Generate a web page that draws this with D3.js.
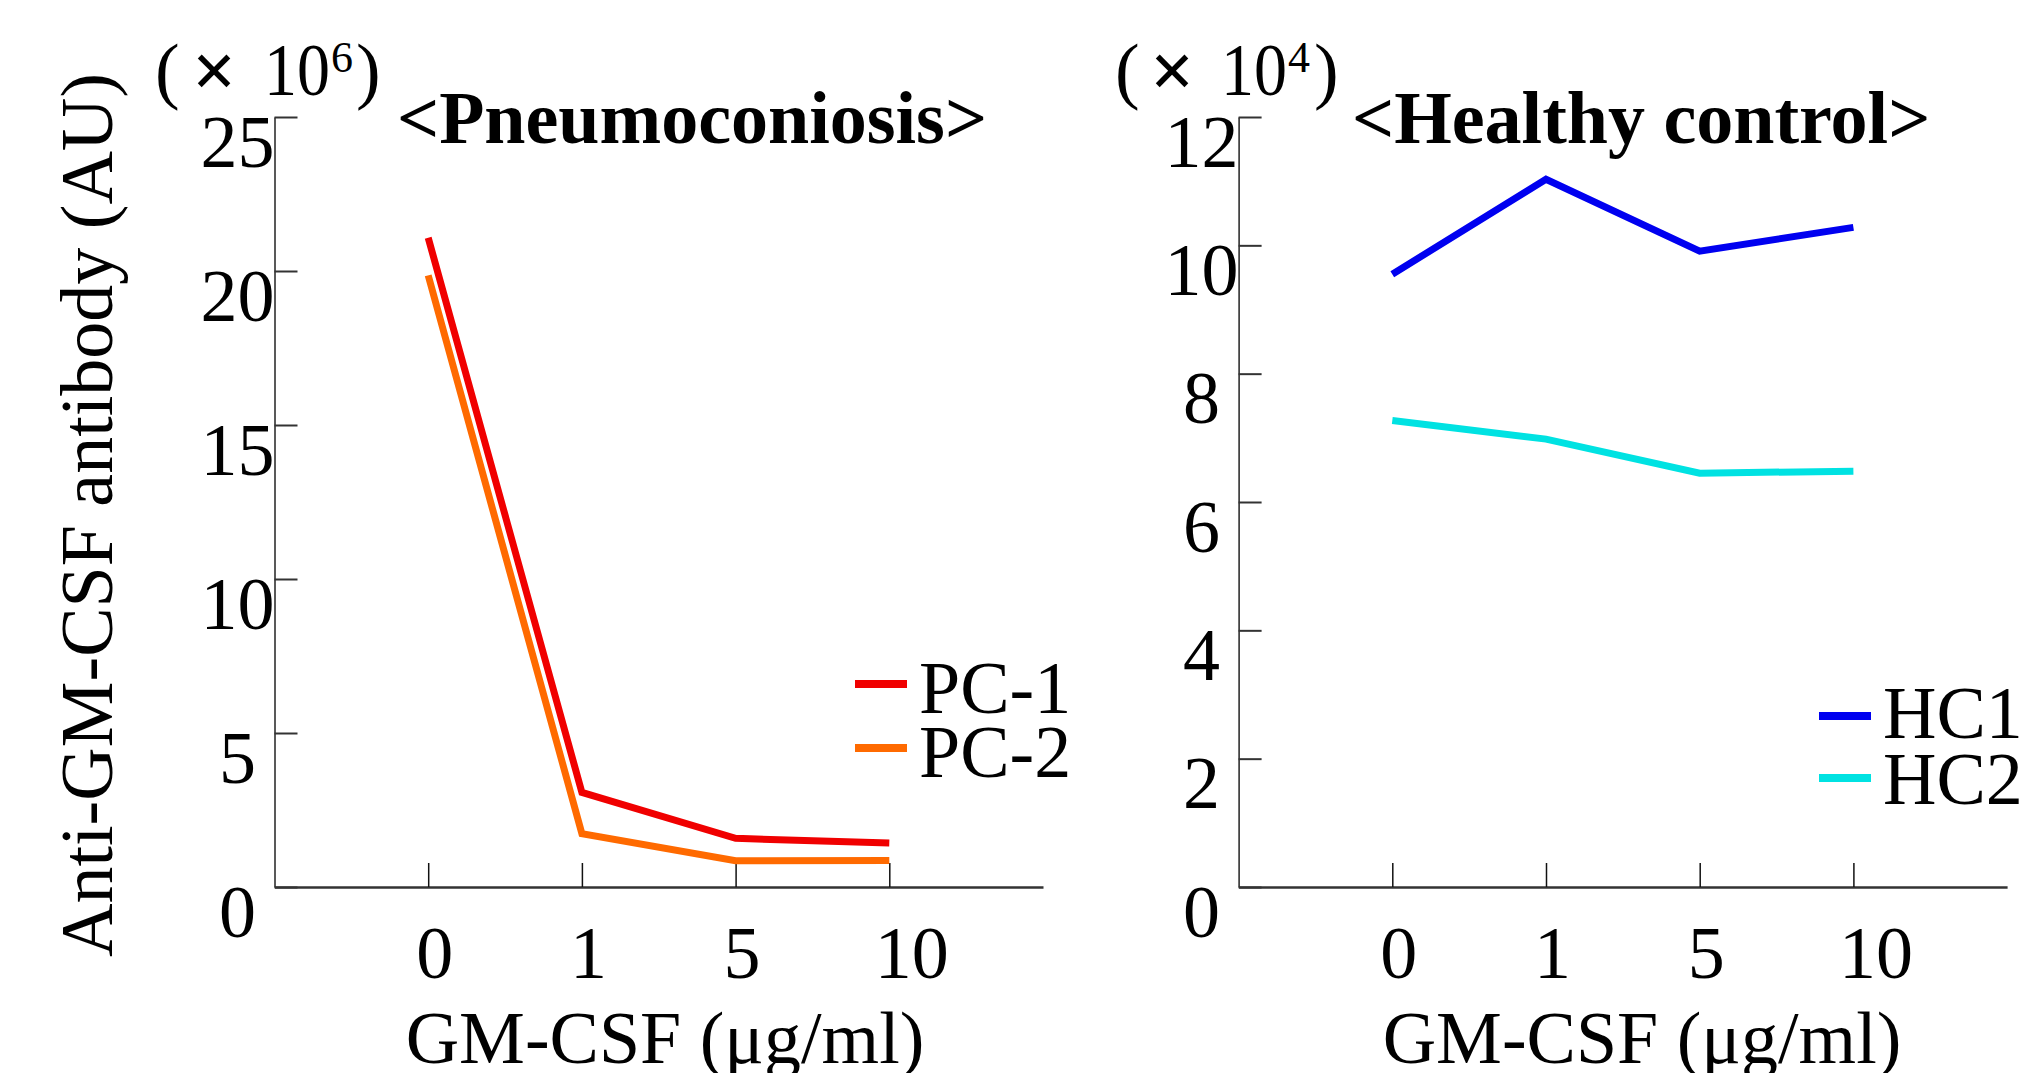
<!DOCTYPE html>
<html>
<head>
<meta charset="utf-8">
<script src="https://cdn.jsdelivr.net/npm/d3@7"></script>
<style>
  body { margin: 0; background: #fff; }
  text { font-family: "Liberation Serif", "Times New Roman", serif; fill: #000; }
</style>
</head>
<body>
<script>
var W = 2029;
var H = 1073;

// GM-CSF doses (x categories)
var doses = ["0", "1", "5", "10"];

// Pneumoconiosis, x10^6 AU
var pc1 = [21.08, 3.07, 1.58, 1.43];
var pc2 = [19.86, 1.73, 0.85, 0.86];

// Healthy control, x10^4 AU
var hc1 = [9.55, 11.03, 9.91, 10.28];
var hc2 = [7.27, 6.98, 6.45, 6.48];

var leftTicks = [0, 5, 10, 15, 20, 25];
var rightTicks = [0, 2, 4, 6, 8, 10, 12];

var svg = d3.select("body").append("svg").attr("width", W).attr("height", H);

var yTop = 117, yBottom = 887;

function panel(opt) {
  var g = svg.append("g");

  var x = d3.scalePoint().domain(doses).range([opt.x0, opt.x0 + 768.5]).padding(1);
  var y = d3.scaleLinear().domain([0, opt.max]).range([yBottom, yTop]);

  // y axis, ticks pointing inward, labels hanging below each tick
  var ya = g.append("g")
    .attr("transform", "translate(" + opt.x0 + ",0)")
    .call(d3.axisLeft(y).tickValues(opt.ticks).tickSizeInner(-23).tickSizeOuter(0));
  ya.select(".domain").attr("stroke", "#222").attr("stroke-width", 1.5);
  ya.selectAll(".tick line").attr("stroke", "#333").attr("stroke-width", 2);
  ya.selectAll(".tick text")
    .attr("x", -37).attr("y", 49).attr("dy", null)
    .attr("text-anchor", "middle")
    .attr("font-size", 74).attr("font-family", null);

  // x axis, ticks pointing up
  var xa = g.append("g")
    .attr("transform", "translate(0," + yBottom + ")")
    .call(d3.axisBottom(x).tickSizeInner(-24).tickSizeOuter(0));
  xa.select(".domain").attr("stroke", "#333").attr("stroke-width", 2.5);
  xa.selectAll(".tick line").attr("stroke", "#111").attr("stroke-width", 1.5);
  xa.selectAll(".tick text")
    .attr("y", 91).attr("dy", null)
    .attr("x", function (d) { return d.length > 1 ? 22 : 6; })
    .attr("text-anchor", "middle")
    .attr("font-size", 74).attr("font-family", null);

  var line = d3.line()
    .x(function (d, i) { return x(doses[i]); })
    .y(function (d) { return y(d); });

  opt.series.forEach(function (s) {
    g.append("path")
      .datum(s.values)
      .attr("d", line)
      .attr("fill", "none")
      .attr("stroke", s.color)
      .attr("stroke-width", 7)
      .attr("stroke-linejoin", "miter");
  });

  // legend
  opt.series.forEach(function (s, i) {
    var lg = opt.legend[i];
    g.append("line")
      .attr("x1", lg.x).attr("x2", lg.x + 52)
      .attr("y1", lg.sy).attr("y2", lg.sy)
      .attr("stroke", s.color).attr("stroke-width", 8);
    g.append("text")
      .attr("x", lg.x + 64).attr("y", lg.ty)
      .attr("font-size", 74)
      .text(s.name);
  });

  // title
  g.append("text")
    .attr("x", opt.titleX).attr("y", 143)
    .attr("font-size", 74).attr("font-weight", "bold")
    .text(opt.title);

  // multiplier
  var m = opt.mult;
  g.append("text").attr("x", m[0]).attr("y", 95).attr("font-size", 74).text("(");
  g.append("text").attr("x", m[1]).attr("y", 97)
    .attr("font-family", "DejaVu Sans").attr("font-weight", "bold")
    .attr("font-size", 78).text("×");
  g.append("text").attr("x", m[2]).attr("y", 95).attr("font-size", 74)
    .attr("textLength", 66).attr("lengthAdjust", "spacingAndGlyphs").text("10");
  g.append("text").attr("x", m[3]).attr("y", 72).attr("font-size", 44).text(opt.exp);
  g.append("text").attr("x", m[4]).attr("y", 95).attr("font-size", 74).text(")");

  // x title
  g.append("text")
    .attr("x", opt.xTitleX).attr("y", 1063)
    .attr("text-anchor", "middle")
    .attr("font-size", 74)
    .text("GM-CSF (μg/ml)");
}

panel({
  x0: 274.5, max: 25, ticks: leftTicks,
  series: [
    { name: "PC-1", values: pc1, color: "#f00000" },
    { name: "PC-2", values: pc2, color: "#ff6a00" }
  ],
  legend: [{ x: 855, sy: 684, ty: 713 }, { x: 855, sy: 748, ty: 777 }],
  title: "<Pneumoconiosis>", titleX: 397,
  mult: [155, 192, 264, 331, 356], exp: "6",
  xTitleX: 665
});

panel({
  x0: 1238.6, max: 12, ticks: rightTicks,
  series: [
    { name: "HC1", values: hc1, color: "#0000f0" },
    { name: "HC2", values: hc2, color: "#00e2e2" }
  ],
  legend: [{ x: 1819, sy: 716, ty: 738 }, { x: 1819, sy: 778, ty: 804 }],
  title: "<Healthy control>", titleX: 1352,
  mult: [1115, 1150, 1221, 1288, 1314], exp: "4",
  xTitleX: 1642
});

// shared y axis title
svg.append("text")
  .attr("transform", "translate(112,515) rotate(-90)")
  .attr("text-anchor", "middle")
  .attr("font-size", 74)
  .text("Anti-GM-CSF antibody (AU)");
</script>
</body>
</html>
